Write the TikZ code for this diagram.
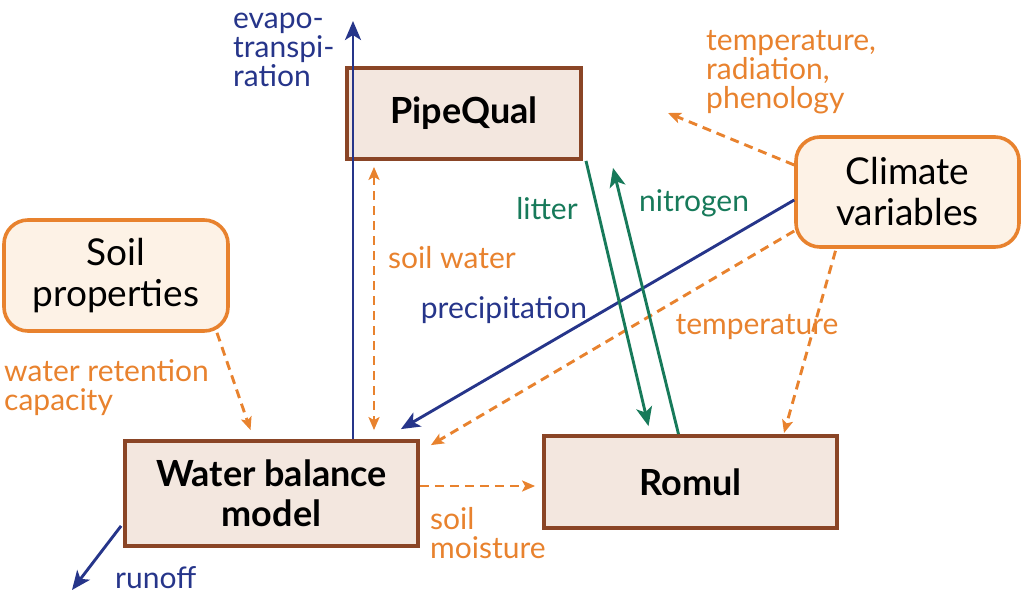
\documentclass[tikz,border=0pt]{standalone}
\usepackage{fontspec}
\setmainfont{Lato}
\usetikzlibrary{arrows.meta,calc}
\definecolor{cblue}{HTML}{26358A}
\definecolor{corange}{HTML}{E8822E}
\definecolor{cgreen}{HTML}{177A5A}
\definecolor{cbrown}{HTML}{8A4526}
\definecolor{cfill}{HTML}{F3E7DF}
\definecolor{rfill}{HTML}{FDF2E6}
\tikzset{
  model/.style={draw=cbrown,fill=cfill,line width=3.8pt,font=\fontsize{36}{40}\selectfont\bfseries,align=center,inner sep=0pt},
  input/.style={draw=corange,fill=rfill,line width=3.6pt,rounded corners=24pt,font=\fontsize{37}{41}\selectfont,align=center,inner sep=0pt},
  flowb/.style={draw=cblue,line width=2.9pt,-{Stealth[length=19pt,width=16pt,inset=5pt]}},
  flowg/.style={draw=cgreen,line width=2.9pt,-{Stealth[length=19pt,width=16pt,inset=5pt]}},
  infl/.style={draw=corange,line width=2.9pt,dash pattern=on 9pt off 6pt,-{Stealth[length=13pt,width=11pt,inset=3pt]}},
  lab/.style={font=\fontsize{30}{29}\selectfont,inner sep=0pt,align=left},
}
\begin{document}
\begin{tikzpicture}[x=1pt,y=-1pt]
\useasboundingbox (0,0) rectangle (1024,597);
% boxes
\node[model,minimum width=234pt,minimum height=91pt] (pq) at (464,113.5) {PipeQual};
\node[model,minimum width=293pt,minimum height=105pt] (wb) at (271.5,493.5) {Water balance\\model};
\node[model,minimum width=293pt,minimum height=92pt] (ro) at (690.5,482) {Romul};
\node[input,minimum width=224pt,minimum height=111pt] (sp) at (116,275.5) {Soil\\properties};
\node[input,minimum width=223pt,minimum height=110pt] (cv) at (907.5,192) {Climate\\variables};
% free-end coordinates
\coordinate (et) at (353,21);
\coordinate (ro1) at (784,433);
\coordinate (tr) at (668,113);
\coordinate (rf) at (72,590);
% connectors
\draw[flowb] (wb.north -| et) -- (et);
\draw[infl,{Stealth[length=13pt,width=11pt,inset=3pt]}-{Stealth[length=13pt,width=11pt,inset=3pt]}] ($(pq.south)+(-90,6)$) -- ($(wb.north)+(102.5,-9)$);
\draw[flowb] ($(cv.west)+(0,8)$) -- ($(wb.north east)+(-19,-10)$);
\draw[infl] ($(cv.west)+(0,39)$) -- ($(wb.north east)+(11,6)$);
\draw[infl] ($(cv.west)+(0,-27)$) -- (tr);
\draw[infl] ($(cv.south)+(-72,2)$) -- (ro1);
\draw[flowg] ($(pq.south)+(122,0)$) -- ($(ro.north)+(-42,-8)$);
\draw[flowg] ($(ro.north)+(-12,0)$) -- ($(pq.south)+(149,7)$);
\draw[infl] ($(sp.south)+(101,0)$) -- ($(wb.north)+(-21,-9)$);
\draw[infl] (wb.east |- 0,486) -- ($(ro.west)+(-7,4)$);
\draw[flowb] ($(wb.south west)+(-2,-22)$) -- (rf);
% labels
\node[lab,text=cblue,anchor=north west] (l1) at (233,13) {evapo-\\transpi-\\ration};
\node[lab,text=corange,anchor=north west] (l2) at (706,30) {temperature,\\radiation,\\phenology};
\node[lab,text=cgreen] (l3) at (547,209) {litter};
\node[lab,text=cgreen] (l4) at (694,203) {nitrogen};
\node[lab,text=corange,anchor=west] (l5) at (388,258) {soil water};
\node[lab,text=cblue] (l6) at (504,310) {precipitation};
\node[lab,text=corange] (l7) at (757,327) {temperature};
\node[lab,text=corange,anchor=north west] (l8) at (4,359) {water retention\\capacity};
\node[lab,text=corange,anchor=north west] (l9) at (430,507) {soil\\moisture};
\node[lab,text=cblue,anchor=west] (l10) at (115,578) {runoff};
\end{tikzpicture}
\end{document}
